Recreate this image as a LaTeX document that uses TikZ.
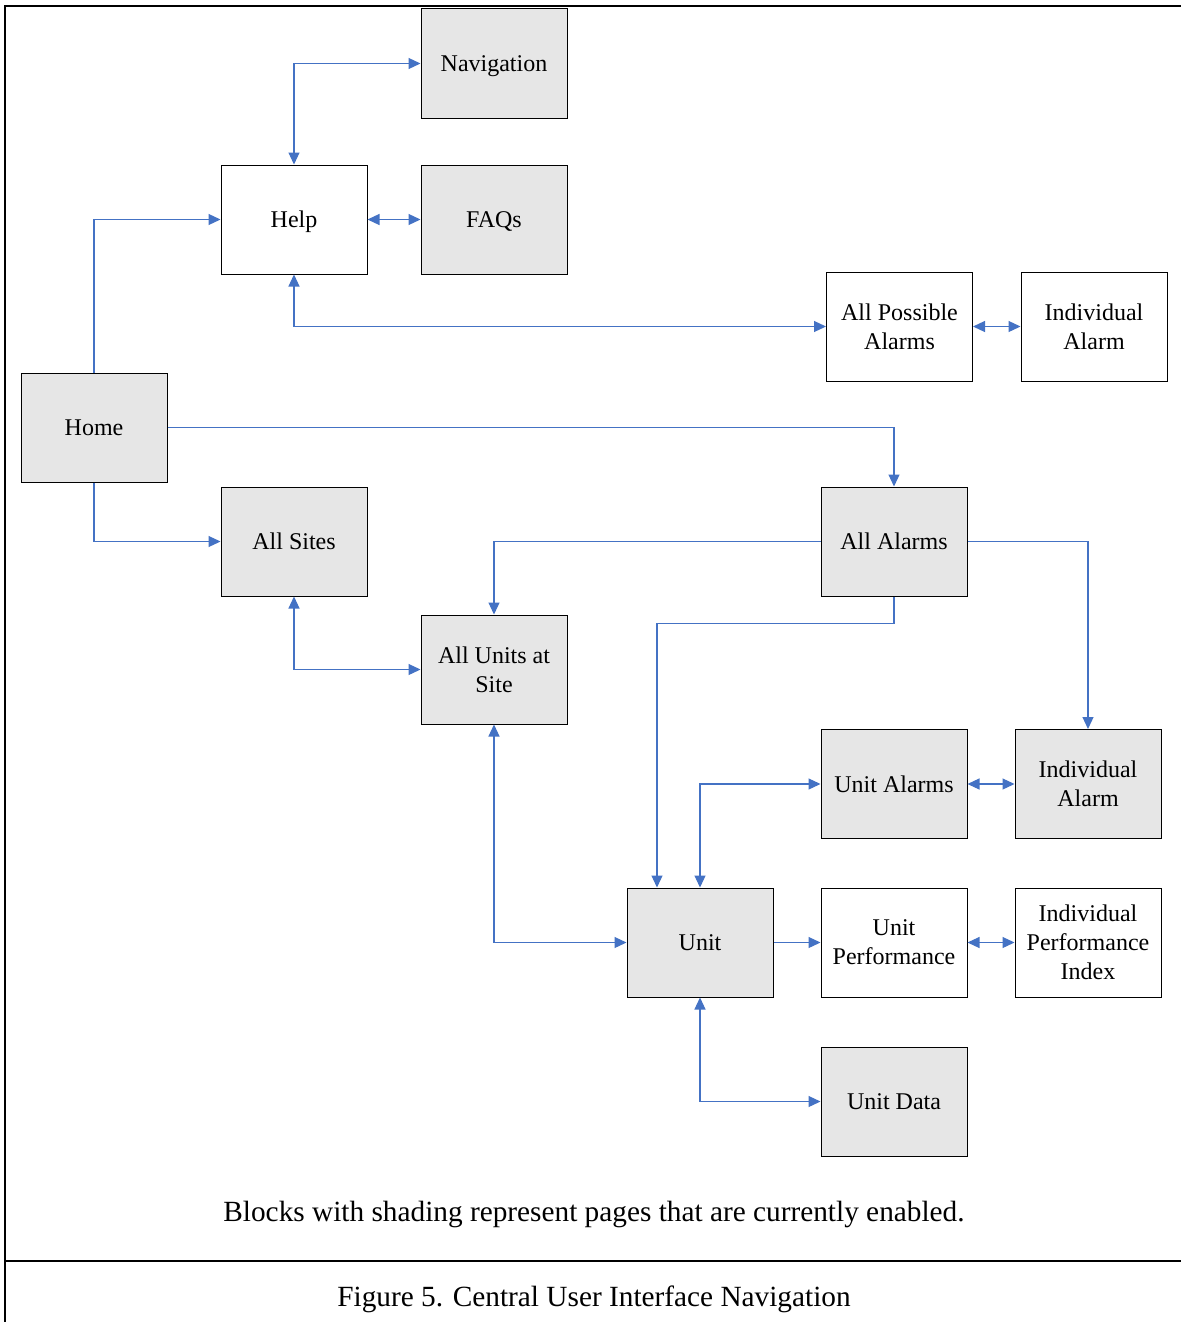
\documentclass[tikz,border=0pt]{standalone}
\usepackage{fontspec}
\setmainfont{Liberation Serif}
\usetikzlibrary{arrows.meta}
\definecolor{conn}{HTML}{4472C4}
\definecolor{shade}{HTML}{E6E6E6}
\tikzset{
  page/.style={draw=black, line width=1pt, minimum width=146pt, minimum height=109pt, inner sep=0pt, text depth=0pt, align=center, font=\fontsize{24}{29}\selectfont},
  enabled/.style={page, fill=shade},
  off/.style={page, fill=white},
  link/.style={draw=conn, line width=1.2pt, -{Triangle[length=12pt,width=11pt]}},
  blink/.style={draw=conn, line width=1.2pt, {Triangle[length=12pt,width=11pt]}-{Triangle[length=12pt,width=11pt]}},
  frame/.style={line width=2.5pt, draw=black},
  captxt/.style={font=\fontsize{29.3}{34}\selectfont, inner sep=0pt, text depth=0pt}
}
\begin{document}
\begin{tikzpicture}[x=1pt, y=-1pt]
\useasboundingbox (0,0) rectangle (1181,1322);
\fill[white] (0,0) rectangle (1181,1322);
% frame
\draw[frame] (5,1322) -- (5,6) -- (1181,6);
\draw[frame] (5,1261) -- (1181,1261);

% nodes
\node[enabled] (nav) at (494,63.5) {Navigation};
\node[off] (help) at (294,219.5) {Help};
\node[enabled] (faq) at (494,219.5) {FAQs};
\node[off] (apa) at (899.5,326.5) {All Possible\\Alarms};
\node[off] (ia1) at (1094,326.5) {Individual\\Alarm};
\node[enabled] (home) at (94,427.5) {Home};
\node[enabled] (sites) at (294,541.5) {All Sites};
\node[enabled] (alarms) at (894,541.5) {All Alarms};
\node[enabled] (aus) at (494,669.5) {All Units at\\Site};
\node[enabled] (ualarms) at (894,784) {Unit Alarms};
\node[enabled] (ia2) at (1088,784) {Individual\\Alarm};
\node[enabled] (unit) at (700,942.5) {Unit};
\node[off] (uperf) at (894,942.5) {Unit\\Performance};
\node[off] (ipi) at (1088,942.5) {Individual\\Performance\\Index};
\node[enabled] (udata) at (894,1101.5) {Unit Data};

% connectors
\draw[blink] (nav.west) -| (help.north);
\draw[blink] (help.east) -- (faq.west);
\draw[link] (home.north) |- (help.west);
\draw[blink] (help.south) |- (apa.west);
\draw[blink] (apa.east) -- (ia1.west);
\draw[link] (home.east) -| (alarms.north);
\draw[link] (home.south) |- (sites.west);
\draw[link] (alarms.west) -| (aus.north);
\draw[link] (alarms.east) -| (ia2.north);
\draw[link] (alarms.south) -- ++(0,27) -| ([xshift=-43pt]unit.north);
\draw[blink] (sites.south) |- (aus.west);
\draw[blink] (aus.south) |- (unit.west);
\draw[blink] (unit.north) |- (ualarms.west);
\draw[blink] (ualarms.east) -- (ia2.west);
\draw[link] (unit.east) -- (uperf.west);
\draw[blink] (uperf.east) -- (ipi.west);
\draw[blink] (unit.south) |- (udata.west);

% texts
\node[captxt] (note) at (594,1211) {Blocks with shading represent pages that are currently enabled.};
\node[captxt] (cap) at (594,1296) {Figure 5. Central User Interface Navigation};
\end{tikzpicture}
\end{document}
